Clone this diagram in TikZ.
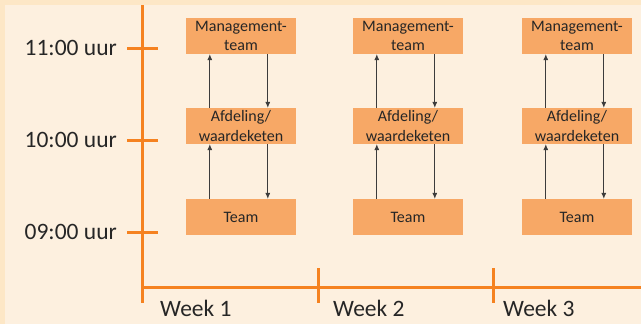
\documentclass[tikz,border=0pt]{standalone}
\usepackage{fontspec}
\setmainfont{Carlito}
\usetikzlibrary{arrows.meta}
\definecolor{bgborder}{HTML}{FDE7C6}
\definecolor{bginner}{HTML}{FDF0DF}
\definecolor{axisorange}{HTML}{F58220}
\definecolor{boxfill}{HTML}{F7A866}
\definecolor{txt}{HTML}{262626}
\tikzset{
  axis/.style={draw=axisorange, line width=3pt},
  box/.style={fill=boxfill, minimum width=110pt, minimum height=36pt, inner sep=0pt,
    align=center, text=txt, font=\fontsize{16}{19.5}\selectfont},
  lbl/.style={inner sep=0pt, text=txt, font=\fontsize{23.5}{27}\selectfont},
  arr/.style={draw=txt!90, line width=0.7pt, -{Latex[length=6pt,width=5pt]}}
}
\begin{document}
\begin{tikzpicture}[x=1pt,y=-1pt]
\useasboundingbox (0,0) rectangle (641,324);
\fill[bgborder] (0,0) rectangle (641,324);
\fill[bginner] (5,5) rectangle (641,324);
% axes
\coordinate (ytop) at (142,5);
\coordinate (ybot) at (142,303);
\coordinate (xl) at (142,287);
\coordinate (xr) at (641,287);
\draw[axis] (ytop) -- (ybot);
\draw[axis] (xl) -- (xr);
\foreach \x in {318,493} \draw[axis] (\x,268) -- (\x,303);
\foreach \y in {48,140,232} \draw[axis] (127,\y) -- (158,\y);
% labels
\node[lbl, anchor=east] (l11) at (117,48) {11:00 uur};
\node[lbl, anchor=east] (l10) at (117,140) {10:00 uur};
\node[lbl, anchor=east] (l09) at (117,232) {09:00 uur};
\node[lbl, anchor=west] (w1) at (160,308) {Week 1};
\node[lbl, anchor=west] (w2) at (333,308) {Week 2};
\node[lbl, anchor=west] (w3) at (503,308) {Week 3};
% boxes
\foreach \i/\cx in {1/241,2/408,3/577}{
  \node[box] (m\i) at (\cx,36) {Management-\\team};
  \node[box] (a\i) at (\cx,126) {Afdeling/\\waardeketen};
  \node[box] (t\i) at (\cx,217) {Team};
  \draw[arr] ([xshift=24pt]a\i.north west) -- ([xshift=24pt]m\i.south west);
  \draw[arr] ([xshift=82pt]m\i.south west) -- ([xshift=82pt]a\i.north west);
  \draw[arr] ([xshift=24pt]t\i.north west) -- ([xshift=24pt]a\i.south west);
  \draw[arr] ([xshift=82pt]a\i.south west) -- ([xshift=82pt]t\i.north west);
}
\end{tikzpicture}
\end{document}
